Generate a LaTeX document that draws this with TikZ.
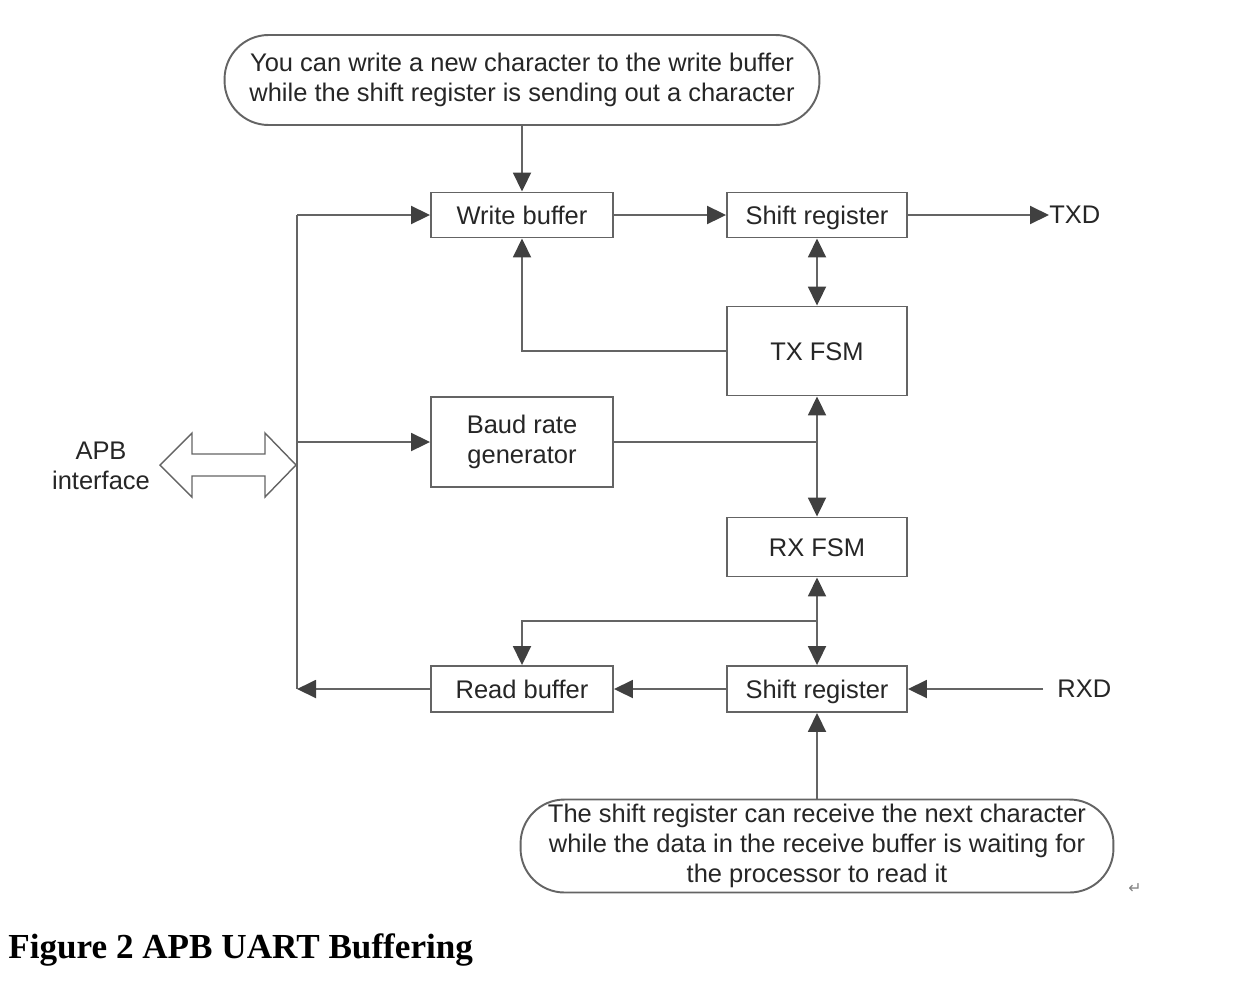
\documentclass[tikz,border=0pt]{standalone}
\usepackage{fontspec}
\setmainfont{Liberation Sans}
\newfontfamily\captionserif{Liberation Serif}
\newfontfamily\marksymbol{DejaVu Sans}
\usetikzlibrary{arrows.meta,calc}
\definecolor{wiregray}{RGB}{100,100,100}
\definecolor{tipgray}{RGB}{64,64,64}
\definecolor{textgray}{RGB}{38,38,38}
\tikzset{wtip/.tip={Triangle[length=0.38cm,width=0.36cm,color=tipgray]}}

\begin{document}
\begin{tikzpicture}[
    x=0.02cm, y=-0.02cm,
    block/.style={rectangle, draw=wiregray, line width=1.1pt, fill=white, inner sep=0pt, align=center, text=textgray, font=\fontsize{14.5}{17}\selectfont},
    oneline/.style={block, text height=10.4pt, text depth=0pt},
    note/.style={block, rounded corners=0.88cm},
    sig/.style={inner sep=0pt, text=textgray, font=\fontsize{14.5}{17}\selectfont},
    wire/.style={draw=wiregray, line width=1.1pt},
    arr/.style={wire, -wtip},
    bidir/.style={wire, wtip-wtip},
    busarrow/.style={draw=wiregray, line width=0.8pt, fill=white, line join=miter}
]
\useasboundingbox (0,0) rectangle (1236,984);

% ============ notes ============
\node[note, minimum width=11.9cm, minimum height=1.8cm] (note-tx) at (522,80) {You can write a new character to the write buffer\\while the shift register is sending out a character};
\node[note, minimum width=11.86cm, minimum height=1.86cm] (note-rx) at (817,846) {The shift register can receive the next character\\while the data in the receive buffer is waiting for\\the processor to read it};

% ============ blocks ============
\node[oneline, minimum width=3.64cm, minimum height=0.9cm] (wbuf) at (522,215) {Write buffer};
\node[oneline, minimum width=3.6cm, minimum height=0.9cm] (txsr) at (817,215) {Shift register};
\node[oneline, minimum width=3.6cm, minimum height=1.78cm] (txfsm) at (817,351) {TX FSM};
\node[block, minimum width=3.64cm, minimum height=1.8cm] (baud) at (522,442) {Baud rate\\generator};
\node[oneline, minimum width=3.6cm, minimum height=1.18cm] (rxfsm) at (817,547) {RX FSM};
\node[oneline, minimum width=3.64cm, minimum height=0.92cm] (rbuf) at (522,689) {Read buffer};
\node[oneline, minimum width=3.6cm, minimum height=0.92cm] (rxsr) at (817,689) {Shift register};

\node[sig] (txd) [anchor=west] at (1049,215) {TXD};
\node[sig] (rxd) [anchor=west] at (1057,689) {RXD};
\node[sig, align=center] (apb) at (101,466) {APB\\interface};

% ============ APB bus ============
\coordinate (bus-top) at (297,215);
\coordinate (bus-baud) at (297,442);
\coordinate (bus-bot) at (297,689);
\draw[wire] (bus-top) -- (bus-bot);
\draw[busarrow] (160,465) -- (192,433) -- (192,454) -- (265,454) -- (265,433) -- (296,465)
    -- (265,497) -- (265,476) -- (192,476) -- (192,497) -- cycle;

% ============ connectors ============
\draw[arr] (note-tx.south) -- (wbuf.north);
\draw[arr] (bus-top) -- (wbuf.west);
\draw[arr] (bus-baud) -- (baud.west);
\draw[arr] (rbuf.west) -- (bus-bot);
\draw[arr] (wbuf.east) -- (txsr.west);
\draw[arr] (txsr.east) -- (txd.west);
\draw[bidir] (txsr.south) -- (txfsm.north);
\draw[arr] (txfsm.west) -| (wbuf.south);

\coordinate (fsm-clk) at (baud.east -| txfsm.south);
\draw[wire] (baud.east) -- (fsm-clk);
\draw[arr] (fsm-clk) -- (txfsm.south);
\draw[arr] (fsm-clk) -- (rxfsm.north);

\coordinate (rx-split) at ($(rxfsm.south)!0.5!(rxsr.north)$);
\draw[bidir] (rxfsm.south) -- (rxsr.north);
\draw[arr] (rx-split) -| (rbuf.north);
\draw[arr] (rxsr.west) -- (rbuf.east);
\coordinate (rxd-in) at (1043,689);
\draw[arr] (rxd-in) -- (rxsr.east);
\draw[arr] (note-rx.north) -- (rxsr.south);

% ============ caption ============
\node[inner sep=0pt, anchor=base west, font=\captionserif\bfseries\fontsize{20}{24}\selectfont] (caption) at (8,958) {Figure 2 APB UART Buffering};
\node[inner sep=0pt, text=gray, font=\marksymbol\fontsize{9}{10}\selectfont] (para-mark) at (1135,889) {↵};

\end{tikzpicture}
\end{document}
